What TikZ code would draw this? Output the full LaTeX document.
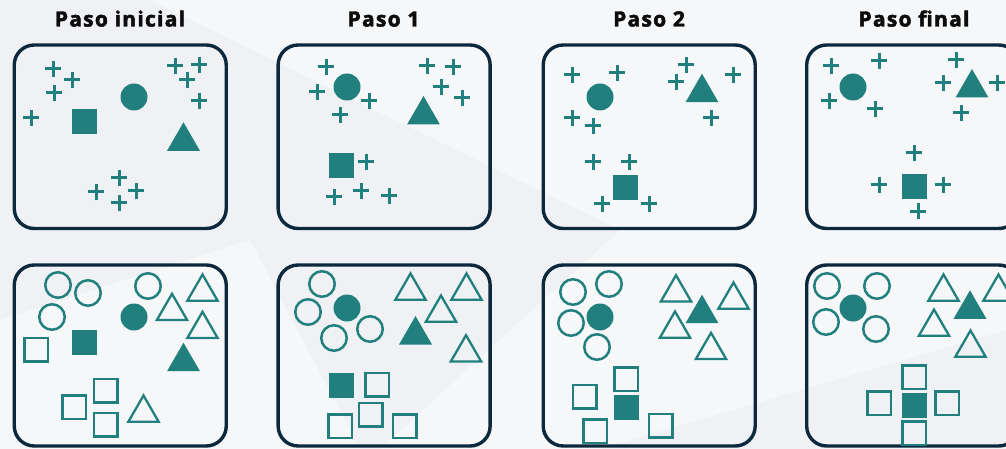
\documentclass[tikz,border=0pt]{standalone}
\usepackage{fontspec}
\setmainfont{Open Sans}
\newfontfamily\ttlfont{Open Sans}[FakeBold=2.2,LetterSpace=6]
\usetikzlibrary{shapes.geometric,shapes.misc}
\definecolor{tealc}{RGB}{33,128,125}
\definecolor{navyc}{RGB}{12,40,60}
\definecolor{bgc}{RGB}{240,241,244}
\definecolor{bgl}{RGB}{246,247,249}
\definecolor{ttlc}{RGB}{12,12,12}
\begin{document}
\begin{tikzpicture}[x=1pt,y=-1pt,
  sh/.style={inner sep=0pt, outer sep=0pt},
  fc/.style={sh, circle, fill=tealc, minimum size=27pt},
  oc/.style={sh, circle, draw=tealc, line width=2.5pt, minimum size=25.5pt},
  fs/.style={sh, rectangle, fill=tealc, minimum size=25pt},
  os/.style={sh, rectangle, draw=tealc, line width=2.5pt, minimum size=23.5pt},
  ft/.style={sh, regular polygon, regular polygon sides=3, fill=tealc, minimum size=38pt},
  ot/.style={sh, regular polygon, regular polygon sides=3, draw=tealc, line width=2.3pt, minimum size=35pt},
  pl/.style={sh, cross out, draw=tealc, line width=3pt, rotate=45, minimum size=12pt},
  box/.style={sh, rectangle, draw=navyc, line width=3.4pt, rounded corners=20pt, minimum width=212pt},
  ttl/.style={font=\ttlfont\bfseries\fontsize{21}{25}\selectfont, text=ttlc, anchor=base, inner sep=0pt}]
\useasboundingbox (0,0) rectangle (1006,449);
\fill[bgc] (0,0) rectangle (1006,449);
\fill[bgl] (150,0) -- (1006,0) -- (1006,330) -- (600,449) -- (380,449) -- (620,230) -- cycle;
\fill[bgl] (0,320) -- (250,240) -- (360,449) -- (0,449) -- cycle;
% titles
\node[ttl] (t1) at (120,26.5) {Paso inicial};
\node[ttl] (t2) at (383.5,26.5) {Paso 1};
\node[ttl] (t3) at (649,26.5) {Paso 2};
\node[ttl] (t4) at (914,26.5) {Paso final};
% boxes
\foreach \cx [count=\i] in {120.25,384.15,649.2,912.7} {
  \node[box, minimum height=183.5pt] (top\i) at (\cx,136.75) {};
  \node[box, minimum height=181pt] (bot\i) at (\cx,355.5) {};
}
% plus signs
\foreach \x/\y [count=\i] in {53/69,72/80,54/93,31/118,175/66,199/65,187/80,199/101,119/178,96/192,136/191,119/203,
  326/67,317/92,369/101,340/115,427/66,453/67,441/87,462/98,366/162,334/197,361/191,389/196,
  572/75,617/73,572/118,593/126,686/65,676/82,733/75,711/118,593/162,629/162,602/204,649/204,
  831/66,879/61,829/101,875/109,956/60,943/83,997/83,961/113,914/153,879/185,943/185,918/211}
  \node[pl] (p\i) at (\x,\y) {};
% filled circles
\foreach \x/\y [count=\i] in {134/97,347/87,600/97,853/87,134/317,347/308,600/317,853/308}
  \node[fc] (fc\i) at (\x,\y) {};
% filled squares
\foreach \x/\y [count=\i] in {84.5/121.5,341.5/165.5,625.5/187.5,914.5/187,84.5/342,341.5/385,626/407.5,914/405}
  \node[fs] (fs\i) at (\x,\y) {};
% filled triangles
\foreach \x/\y [count=\i] in {183.5/141.3,423.5/115,702/92.7,972/88,183.5/361.7,415.5/335,702/313.7,970/309.3}
  \node[ft] (ft\i) at (\x,\y) {};
% open circles
\foreach \x/\y [count=\i] in {58/285,88/293,52/317,148/286,
  322/284,308/312,334/338,370/329,
  573/292,609/284,571/323,597/347,
  827/286,877/286,826/322,876/329}
  \node[oc] (oc\i) at (\x,\y) {};
% open squares
\foreach \x/\y [count=\i] in {36/349.5,74/407,105.5/390.5,105.5/424.5,
  377/384.5,370.5/414.5,340/426,404.5/426,
  626/379,584.5/396.5,595/431,660.5/425.5,
  914/377,879/403,947/403,914/433}
  \node[os] (os\i) at (\x,\y) {};
% open triangles
\foreach \x/\y [count=\i] in {202.5/292,172/311.3,202.5/329.3,143.5/413,
  410.5/291,466.5/291,441/313,466/352.7,
  676/292.7,733.5/300,675/329,711/350.3,
  943.5/292,998.5/292,934/327,970.5/348}
  \node[ot] (ot\i) at (\x,\y) {};
\end{tikzpicture}
\end{document}
